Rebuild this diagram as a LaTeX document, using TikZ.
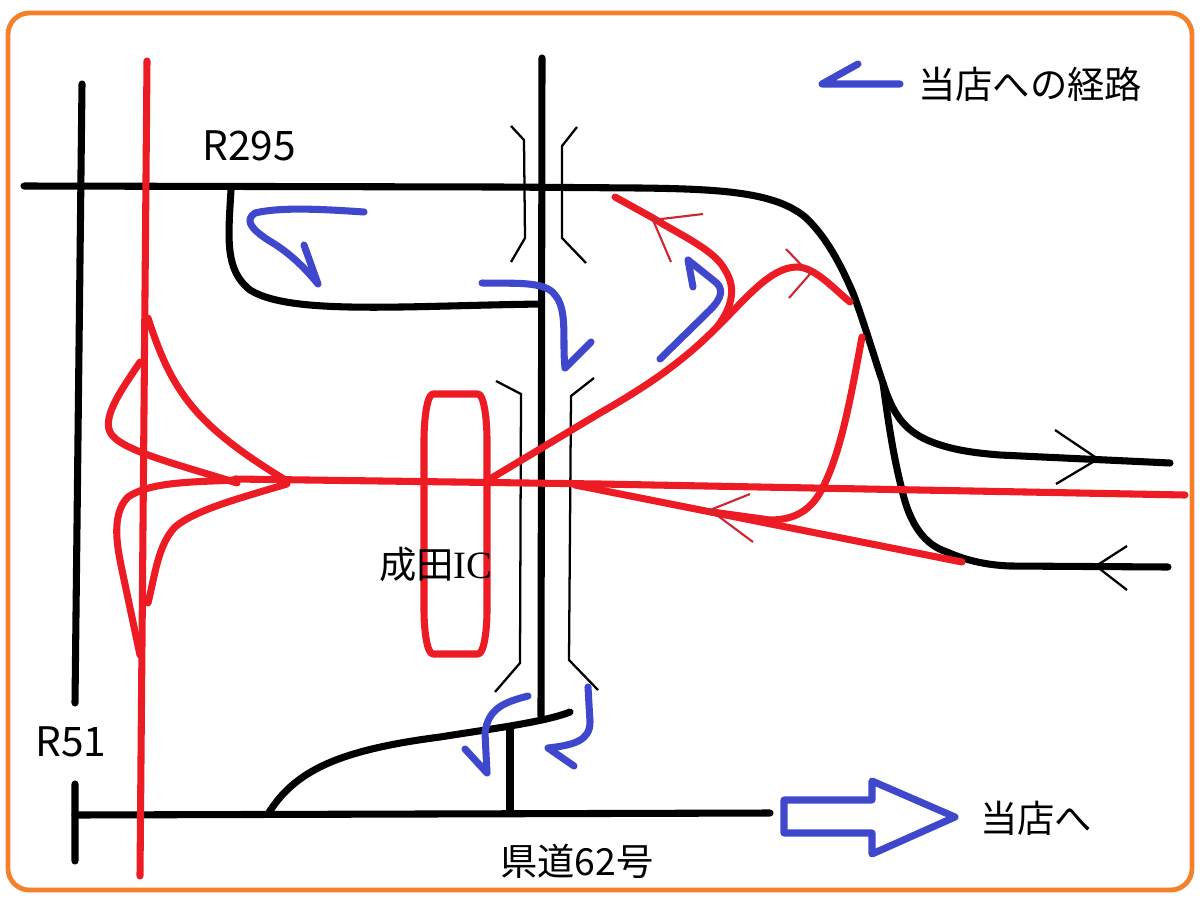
\documentclass[tikz,border=0pt]{standalone}
\usepackage{fontspec}
\setmainfont{Noto Sans CJK JP}
\newfontfamily\icfont{Liberation Serif}
\tikzset{
	roadblack/.style={draw=black,line width=5.3pt,line cap=round,line join=round},
	bridgeline/.style={draw=black,line width=1.7pt},
	roadred/.style={draw=routered,line width=5.3pt,line cap=round,line join=round},
	tickred/.style={draw=tickdark,line width=1.6pt},
	routeblue/.style={draw=guideblue,line width=5.3pt,line cap=round,line join=round},
	maplabel/.style={inner sep=0pt,font=\fontsize{28}{32}\selectfont,text=black},
	roadlabel/.style={inner sep=0pt,font=\fontsize{30.5}{34}\selectfont,text=black}
}
\definecolor{routered}{RGB}{237,28,36}
\definecolor{tickdark}{RGB}{205,40,50}
\definecolor{guideblue}{RGB}{63,72,204}
\definecolor{frameorange}{RGB}{243,128,42}
\begin{document}
\begin{tikzpicture}[x=0.75pt,y=0.75pt,yscale=-1,xscale=1]
	\useasboundingbox (0,0) rectangle (1200,900);
	\draw [frameorange,line width=3.6pt,rounded corners=16pt] (8,13) rectangle (1192,890);
	% black roads
	\draw [roadblack] (82,84) -- (75,703) (75,784) -- (75,861);
	\draw [roadblack] (24,186) -- (500,187) -- (640,188) .. controls (720,189) and (775,192) .. (805,217) .. controls (830,240) and (845,275) .. (853,293) .. controls (865,325) and (875,360) .. (883,383) .. controls (893,415) and (905,430) .. (927,440) .. controls (950,450) and (975,453) .. (1000,455) -- (1170,463);
	\draw [roadblack] (883,383) .. controls (888,420) and (893,455) .. (902,490) .. controls (910,525) and (925,545) .. (947,552) .. controls (965,560) and (985,565) .. (1010,566) -- (1168,567);
	\draw [roadblack] (542,58) -- (541,716);
	\draw [roadblack] (231,190) .. controls (228,240) and (225,270) .. (250,290) .. controls (290,315) and (400,306) .. (541,304);
	\draw [roadblack] (75,815) -- (770,813);
	\draw [roadblack] (268,814) .. controls (295,770) and (340,750) .. (440,737) .. controls (490,729) and (545,722) .. (570,712);
	\draw [roadblack] (510,727) -- (510,813);
	% bridge marks
	\draw [bridgeline] (511,126) -- (524,140) -- (525,238) -- (511,262);
	\draw [bridgeline] (577,127) -- (562,146) -- (562,238) -- (586,263);
	\draw [bridgeline] (496,381) -- (521,394) -- (520,663) -- (495,692);
	\draw [bridgeline] (594,378) -- (571,396) -- (569,660) -- (598,690);
	\draw [bridgeline] (1055,430) -- (1098,459) -- (1056,484);
	\draw [bridgeline] (1127,546) -- (1096,566) -- (1127,590);
	% red roads
	\draw [roadred] (147,61) -- (140,876);
	\draw [roadred] (148,318) .. controls (172,392) and (195,425) .. (287,481);
	\draw [roadred] (140,362) .. controls (125,385) and (102,415) .. (110,432) .. controls (118,450) and (180,465) .. (237,483);
	\draw [roadred] (237,480) .. controls (190,482) and (150,482) .. (128,497) .. controls (110,515) and (118,550) .. (122,570) -- (140,655);
	\draw [roadred] (287,484) .. controls (240,498) and (195,510) .. (175,527) .. controls (158,545) and (155,575) .. (148,603);
	\draw [roadred] (235,479) -- (600,484) -- (1185,495);
	\draw [roadred] (433,394) -- (478,394) .. controls (484,394) and (487,420) .. (487,440) -- (487,610) .. controls (487,630) and (484,654) .. (478,654) -- (433,654) .. controls (427,654) and (424,630) .. (424,610) -- (424,440) .. controls (424,420) and (427,394) .. (433,394) -- cycle;
	\draw [roadred] (485,482) -- (600,413) .. controls (640,390) and (680,365) .. (717,327) .. controls (745,300) and (770,267) .. (797,267) .. controls (815,267) and (835,290) .. (850,302);
	\draw [roadred] (615,197) -- (653,218) .. controls (680,235) and (715,250) .. (725,270) .. controls (738,290) and (730,310) .. (717,327);
	\draw [roadred] (862,337) .. controls (852,390) and (842,450) .. (823,487) .. controls (812,510) and (795,520) .. (770,520) -- (712,512);
	\draw [roadred] (575,485) -- (962,562);
	% red ticks
	\draw [tickred] (703,214) -- (653,220) -- (671,262);
	\draw [tickred] (786,249) -- (810,274) -- (789,298);
	\draw [tickred] (750,494) -- (710,510) -- (753,542);
	% blue routes
	\draw [routeblue] (364,212) .. controls (320,209) and (280,207) .. (255,213) .. controls (245,220) and (250,228) .. (268,240) .. controls (285,250) and (300,262) .. (318,284) -- (304,245);
	\draw [routeblue] (482,283) .. controls (510,284) and (545,280) .. (555,295) .. controls (568,310) and (562,340) .. (565,368) -- (591,342);
	\draw [routeblue] (660,359) -- (710,310) .. controls (722,298) and (725,288) .. (713,280) -- (688,260) -- (693,287);
	\draw [routeblue] (528,696) .. controls (505,702) and (488,708) .. (485,733) -- (487,773) -- (465,749);
	\draw [routeblue] (588,687) -- (590,722) .. controls (590,740) and (575,745) .. (548,748) -- (574,766);
	\draw [routeblue] (858,64) -- (822,84) -- (900,84);
	\draw [routeblue] (784,800) -- (872,800) -- (872,781) -- (955,817) -- (872,854) -- (872,833) -- (784,833) -- cycle;
	% labels
	\node [maplabel,anchor=west] (legend) at (918,84) {当店への経路};
	\node [roadlabel,anchor=west] (r295) at (202,146) {R295};
	\node [roadlabel,anchor=west] (r51) at (35,742) {R51};
	\node [maplabel,anchor=west] (icname) at (379,564) {成田{\icfont\fontsize{29}{32}\selectfont IC}};
	\node [maplabel,anchor=west] (pref) at (500,861) {県道62号};
	\node [maplabel,anchor=west] (toshop) at (980,818) {当店へ};
\end{tikzpicture}
\end{document}
